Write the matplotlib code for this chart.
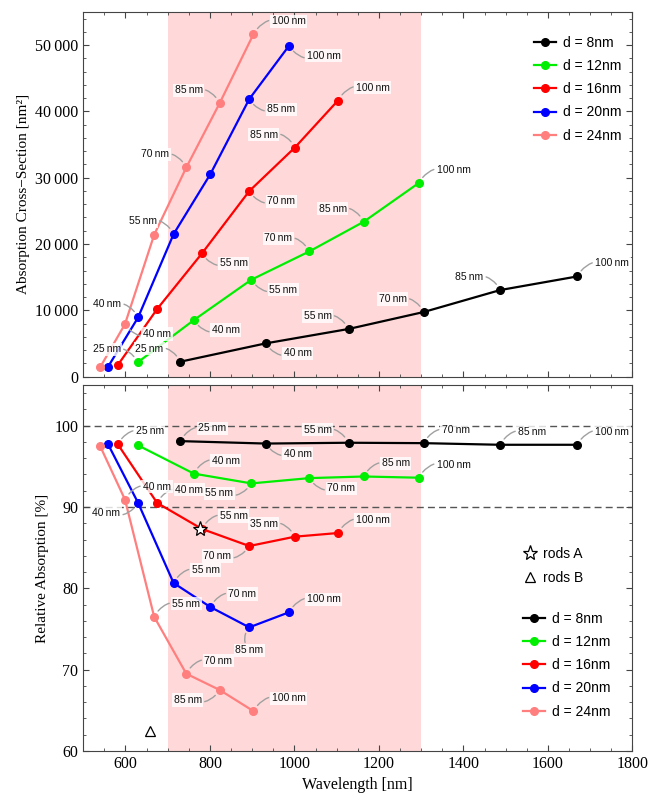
import matplotlib
matplotlib.use("Agg")
import matplotlib.pyplot as plt
from matplotlib.ticker import MultipleLocator, FuncFormatter
from matplotlib.lines import Line2D


# Data (wavelength in nm, cross-section in nm^2, relative absorption in %)
rod_lengths = ["25\u2009nm", "40\u2009nm", "55\u2009nm", "70\u2009nm", "85\u2009nm", "100\u2009nm"]
diameters = ["d = 8nm", "d = 12nm", "d = 16nm", "d = 20nm", "d = 24nm"]

d8_wl = [730, 932, 1128, 1306, 1487, 1669]
d8_cs = [2260, 5020, 7190, 9750, 13060, 15110]
d8_abs = [98.1, 97.8, 97.9, 97.85, 97.65, 97.65]

d12_wl = [629, 762, 898, 1035, 1164, 1294]
d12_cs = [2160, 8540, 14620, 18880, 23360, 29190]
d12_abs = [97.6, 94.1, 92.9, 93.55, 93.75, 93.6]

d16_wl = [582, 675, 781, 893, 1001, 1103]
d16_cs = [1760, 10200, 18580, 27980, 34550, 41640]
d16_abs = [97.7, 90.5, 87.3, 85.2, 86.35, 86.8]

d20_wl = [559, 630, 714, 801, 893, 987]
d20_cs = [1510, 8940, 21500, 30540, 41850, 49880]
d20_abs = [97.7, 90.5, 80.65, 77.7, 75.2, 77.05]

d24_wl = [540, 599, 668, 744, 823, 903]
d24_cs = [1400, 7940, 21400, 31540, 41240, 51640]
d24_abs = [97.5, 90.9, 76.5, 69.5, 67.5, 64.9]

rods_a = (776, 87.3)
rods_b = (659, 62.4)

colors = ["black", "#00ee00", "red", "blue", "#ff7f7f"]

# where the callout of each point goes (None = no callout)
top_pos = [
    ["UL", "LR", "UL", "UL", "UL", "UR"],
    ["UL", "LR", "LR", "UL", "UL", "UR"],
    [None, None, "LR", "LR", "UL", "UR"],
    [None, "UL", "UL", None, "LR", "LR"],
    [None, "LR", None, "UL", "UL", "UR"],
]
bottom_pos = [
    ["UR", "LR", "UL", "UR", "UR", "UR"],
    [None, "UR", "LL", "LR", "UR", "UR"],
    ["UR", "UR", "UR", "LL", "UL", "UR"],
    [None, "LL", "UR", "UR", "B", "UR"],
    [None, "UR", "UR", "UR", "LL", "UR"],
]

OFFSETS = {"UL": (-31, 13), "UR": (32, 13), "LR": (32, -10), "LL": (-32, -10), "B": (0, -23)}

serif = ["Liberation Serif", "DejaVu Serif"]
sans = ["Liberation Sans", "DejaVu Sans"]


def callout(ax, x, y, text, pos):
    dx, dy = OFFSETS[pos]
    if text.startswith("100") and dx != 0:
        dx += 3 if dx > 0 else -3
    rad = 0.4 if dx * dy > 0 else -0.4
    ax.annotate(text, xy=(x, y), xytext=(dx, dy), textcoords="offset pixels",
                ha="center", va="center", fontsize=7.5, family=sans, color="#111111",
                bbox=dict(boxstyle="square,pad=0.15", fc="white", ec="none", alpha=0.8),
                arrowprops=dict(arrowstyle="-", color="#a0a0a0", lw=1.0, shrinkA=1, shrinkB=5,
                                connectionstyle=f"arc3,rad={rad}"),
                zorder=5)


def style_axes(ax):
    ax.set_xlim(500, 1800)
    ax.axvspan(700, 1300, color="#ffd9d9", lw=0, zorder=0)
    ax.xaxis.set_major_locator(MultipleLocator(200))
    ax.xaxis.set_minor_locator(MultipleLocator(50))
    ax.tick_params(which="both", direction="in", top=True, right=True, color="#444444")
    ax.tick_params(which="major", length=4)
    ax.tick_params(which="minor", length=2)
    for s in ax.spines.values():
        s.set_color("#444444")
    for lab in ax.get_xticklabels() + ax.get_yticklabels():
        lab.set_family(serif)
        lab.set_fontsize(11.5)


fig = plt.figure(figsize=(6.5, 7.93), dpi=100)
ax1 = fig.add_axes([0.128, 0.525, 0.845, 0.46])
ax2 = fig.add_axes([0.128, 0.053, 0.845, 0.4615])

wls = [d8_wl, d12_wl, d16_wl, d20_wl, d24_wl]
css = [d8_cs, d12_cs, d16_cs, d20_cs, d24_cs]
abss = [d8_abs, d12_abs, d16_abs, d20_abs, d24_abs]

# Top panel
for i in range(5):
    ax1.plot(wls[i], css[i], color=colors[i], lw=1.6, marker="o", markersize=5.5,
             label=diameters[i], zorder=3)
    for j in range(6):
        if top_pos[i][j]:
            callout(ax1, wls[i][j], css[i][j], rod_lengths[j], top_pos[i][j])

ax1.set_ylim(0, 55000)
ax1.yaxis.set_major_locator(MultipleLocator(10000))
ax1.yaxis.set_minor_locator(MultipleLocator(2000))
ax1.yaxis.set_major_formatter(FuncFormatter(lambda v, p: f"{v:,.0f}".replace(",", "\u2009")))
ax1.set_xticklabels([])
style_axes(ax1)
ax1.set_ylabel("Absorption Cross\u2212Section [nm²]", family=serif, fontsize=11)
ax1.legend(loc="upper left", bbox_to_anchor=(0.82, 0.934), frameon=False, prop=dict(family=sans, size=10),
           handlelength=1.6, handletextpad=0.5, labelspacing=0.66, borderpad=0, borderaxespad=0)

# Bottom panel
for i in range(5):
    ax2.plot(wls[i], abss[i], color=colors[i], lw=1.6, marker="o", markersize=5.5,
             label=diameters[i], zorder=3)
    for j in range(6):
        if bottom_pos[i][j]:
            text = rod_lengths[j]
            if i == 2 and j == 4:
                text = "35\u2009nm"
            callout(ax2, wls[i][j], abss[i][j], text, bottom_pos[i][j])

ax2.axhline(100, color="#555555", lw=1, dashes=(5, 3), zorder=1)
ax2.axhline(90, color="#555555", lw=1, dashes=(5, 3), zorder=1)
ax2.plot(*rods_a, marker="*", markersize=11, mfc="white", mec="black", mew=0.9, ls="none", zorder=6)
ax2.plot(*rods_b, marker="^", markersize=6.5, mfc="none", mec="black", mew=0.9, ls="none", zorder=6)

ax2.set_ylim(60, 105)
ax2.yaxis.set_major_locator(MultipleLocator(10))
ax2.yaxis.set_minor_locator(MultipleLocator(2))
style_axes(ax2)
ax2.set_ylabel("Relative Absorption [%]", family=serif, fontsize=11)
ax2.set_xlabel("Wavelength [nm]", family=serif, fontsize=11.5)

rods_handles = [
    Line2D([], [], marker="*", markersize=11, mfc="white", mec="black", mew=0.9, ls="none"),
    Line2D([], [], marker="^", markersize=6.5, mfc="none", mec="black", mew=0.9, ls="none"),
]
leg_rods = ax2.legend(rods_handles, ["rods A", "rods B"], loc="upper left", bbox_to_anchor=(0.8, 0.558),
                      frameon=False, prop=dict(family=sans, size=10), handlelength=1.0,
                      handletextpad=0.5, labelspacing=0.72, borderpad=0, borderaxespad=0)
ax2.add_artist(leg_rods)
ax2.legend(loc="upper left", bbox_to_anchor=(0.8, 0.38), frameon=False, prop=dict(family=sans, size=10),
           handlelength=1.6, handletextpad=0.5, labelspacing=0.66, borderpad=0, borderaxespad=0)

fig.savefig("out.png", dpi=100)
